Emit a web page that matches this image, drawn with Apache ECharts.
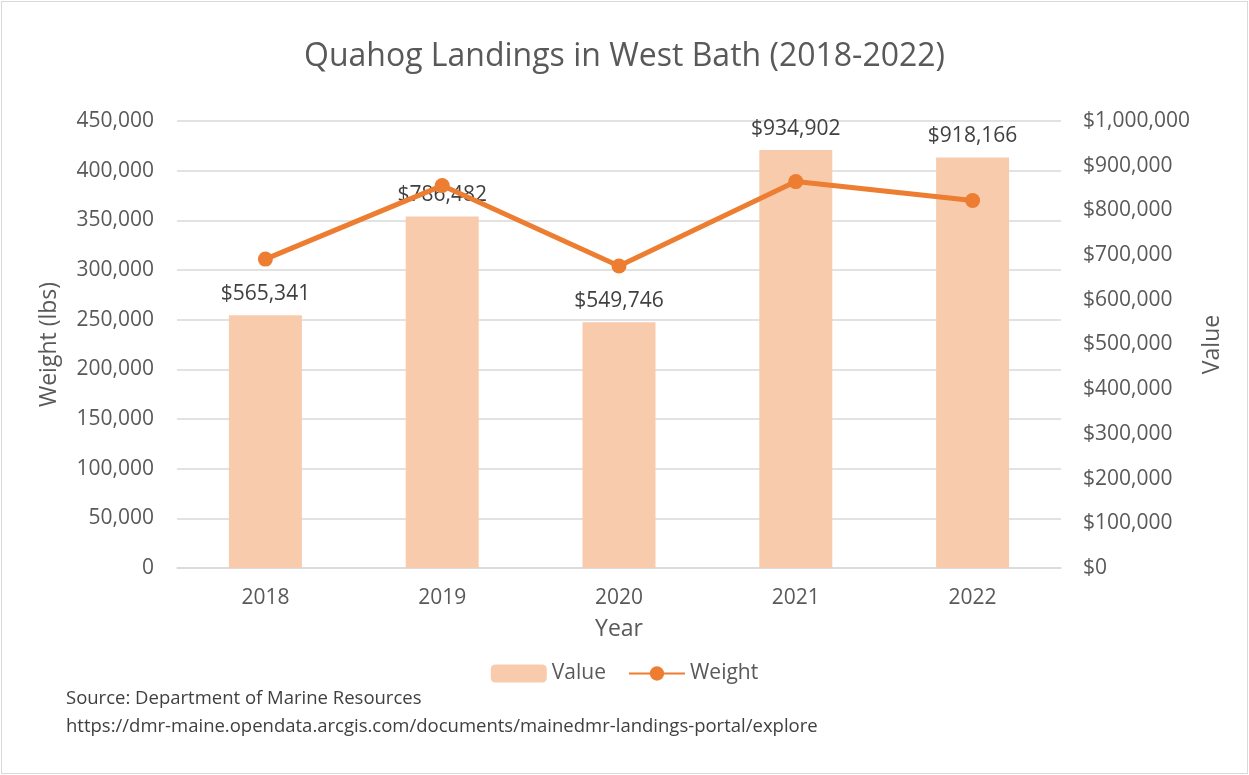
<!DOCTYPE html>
<html>
<head>
<meta charset="utf-8">
<script src="https://cdn.jsdelivr.net/npm/echarts@6/dist/echarts.min.js"></script>
<style>
  html, body { margin: 0; padding: 0; background: #fff; }
  #chart { position: absolute; left: 1px; top: 1px; width: 1245px; height: 771px; border: 1px solid #D9D9D9; }
</style>
</head>
<body>
<div id="chart"></div>
<script>
// 数据
var years = ['2018', '2019', '2020', '2021', '2022'];
var valueData = [565341, 786482, 549746, 934902, 918166];
var weightData = [311000, 385000, 304000, 389000, 370000];

var fontName = 'Open Sans';
var grey = '#595959';

function fmtNum(v) {
    return v.toString().replace(/\B(?=(\d{3})+(?!\d))/g, ',');
}

var myChart = echarts.init(document.getElementById('chart'));

var option = {
    backgroundColor: '#fff',
    textStyle: { fontFamily: fontName },
    title: {
        text: 'Quahog Landings in West Bath (2018-2022)',
        left: 'center',
        top: 34,
        textStyle: { color: grey, fontSize: 32, fontWeight: 'normal', fontFamily: fontName }
    },
    legend: {
        bottom: 84,
        left: 'center',
        itemWidth: 56,
        itemHeight: 18,
        itemGap: 22,
        textStyle: { color: grey, fontSize: 21 },
        data: ['Value', 'Weight']
    },
    graphic: [{
        type: 'text',
        left: 64,
        top: 683,
        style: {
            text: 'Source: Department of Marine Resources\nhttps://dmr-maine.opendata.arcgis.com/documents/mainedmr-landings-portal/explore',
            fill: '#404040',
            font: '18.5px "Open Sans"',
            lineHeight: 28
        }
    }],
    grid: {
        left: 175,
        right: 186,
        top: 119,
        bottom: 205
    },
    xAxis: {
        type: 'category',
        data: years,
        name: 'Year',
        nameLocation: 'middle',
        nameGap: 50,
        nameTextStyle: { color: grey, fontSize: 23 },
        axisTick: { show: false },
        axisLine: { lineStyle: { color: '#D9D9D9', width: 1.5 } },
        axisLabel: { color: grey, fontSize: 21, margin: 20 }
    },
    yAxis: [{
        type: 'value',
        min: 0,
        max: 450000,
        interval: 50000,
        name: 'Weight (lbs)',
        nameLocation: 'middle',
        nameGap: 116,
        nameTextStyle: { color: grey, fontSize: 23 },
        axisLine: { show: false },
        axisTick: { show: false },
        axisLabel: { color: grey, fontSize: 21, margin: 23, formatter: function (v) { return fmtNum(v); } },
        splitLine: { lineStyle: { color: '#D9D9D9', width: 1.5 } }
    }, {
        type: 'value',
        min: 0,
        max: 1000000,
        interval: 100000,
        name: 'Value',
        nameLocation: 'middle',
        nameGap: 136,
        nameRotate: 90,
        nameTextStyle: { color: grey, fontSize: 23 },
        axisLine: { show: false },
        axisTick: { show: false },
        splitLine: { show: false },
        axisLabel: { color: grey, fontSize: 21, margin: 22, formatter: function (v) { return '$' + fmtNum(v); } }
    }],
    series: [{
        name: 'Value',
        type: 'bar',
        yAxisIndex: 1,
        data: valueData,
        barWidth: 73,
        itemStyle: { color: '#F8CBAD' },
        label: {
            show: true,
            position: 'top',
            distance: 11,
            color: '#404040',
            fontSize: 21,
            formatter: function (p) { return '$' + fmtNum(p.value); }
        },
        z: 1
    }, {
        name: 'Weight',
        type: 'line',
        yAxisIndex: 0,
        data: weightData,
        symbol: 'circle',
        symbolSize: 15,
        lineStyle: { color: '#ED7D31', width: 5 },
        itemStyle: { color: '#ED7D31' },
        z: 2
    }]
};

myChart.setOption(option);
window.addEventListener('resize', function () {
    myChart.resize();
});
</script>
</body>
</html>
